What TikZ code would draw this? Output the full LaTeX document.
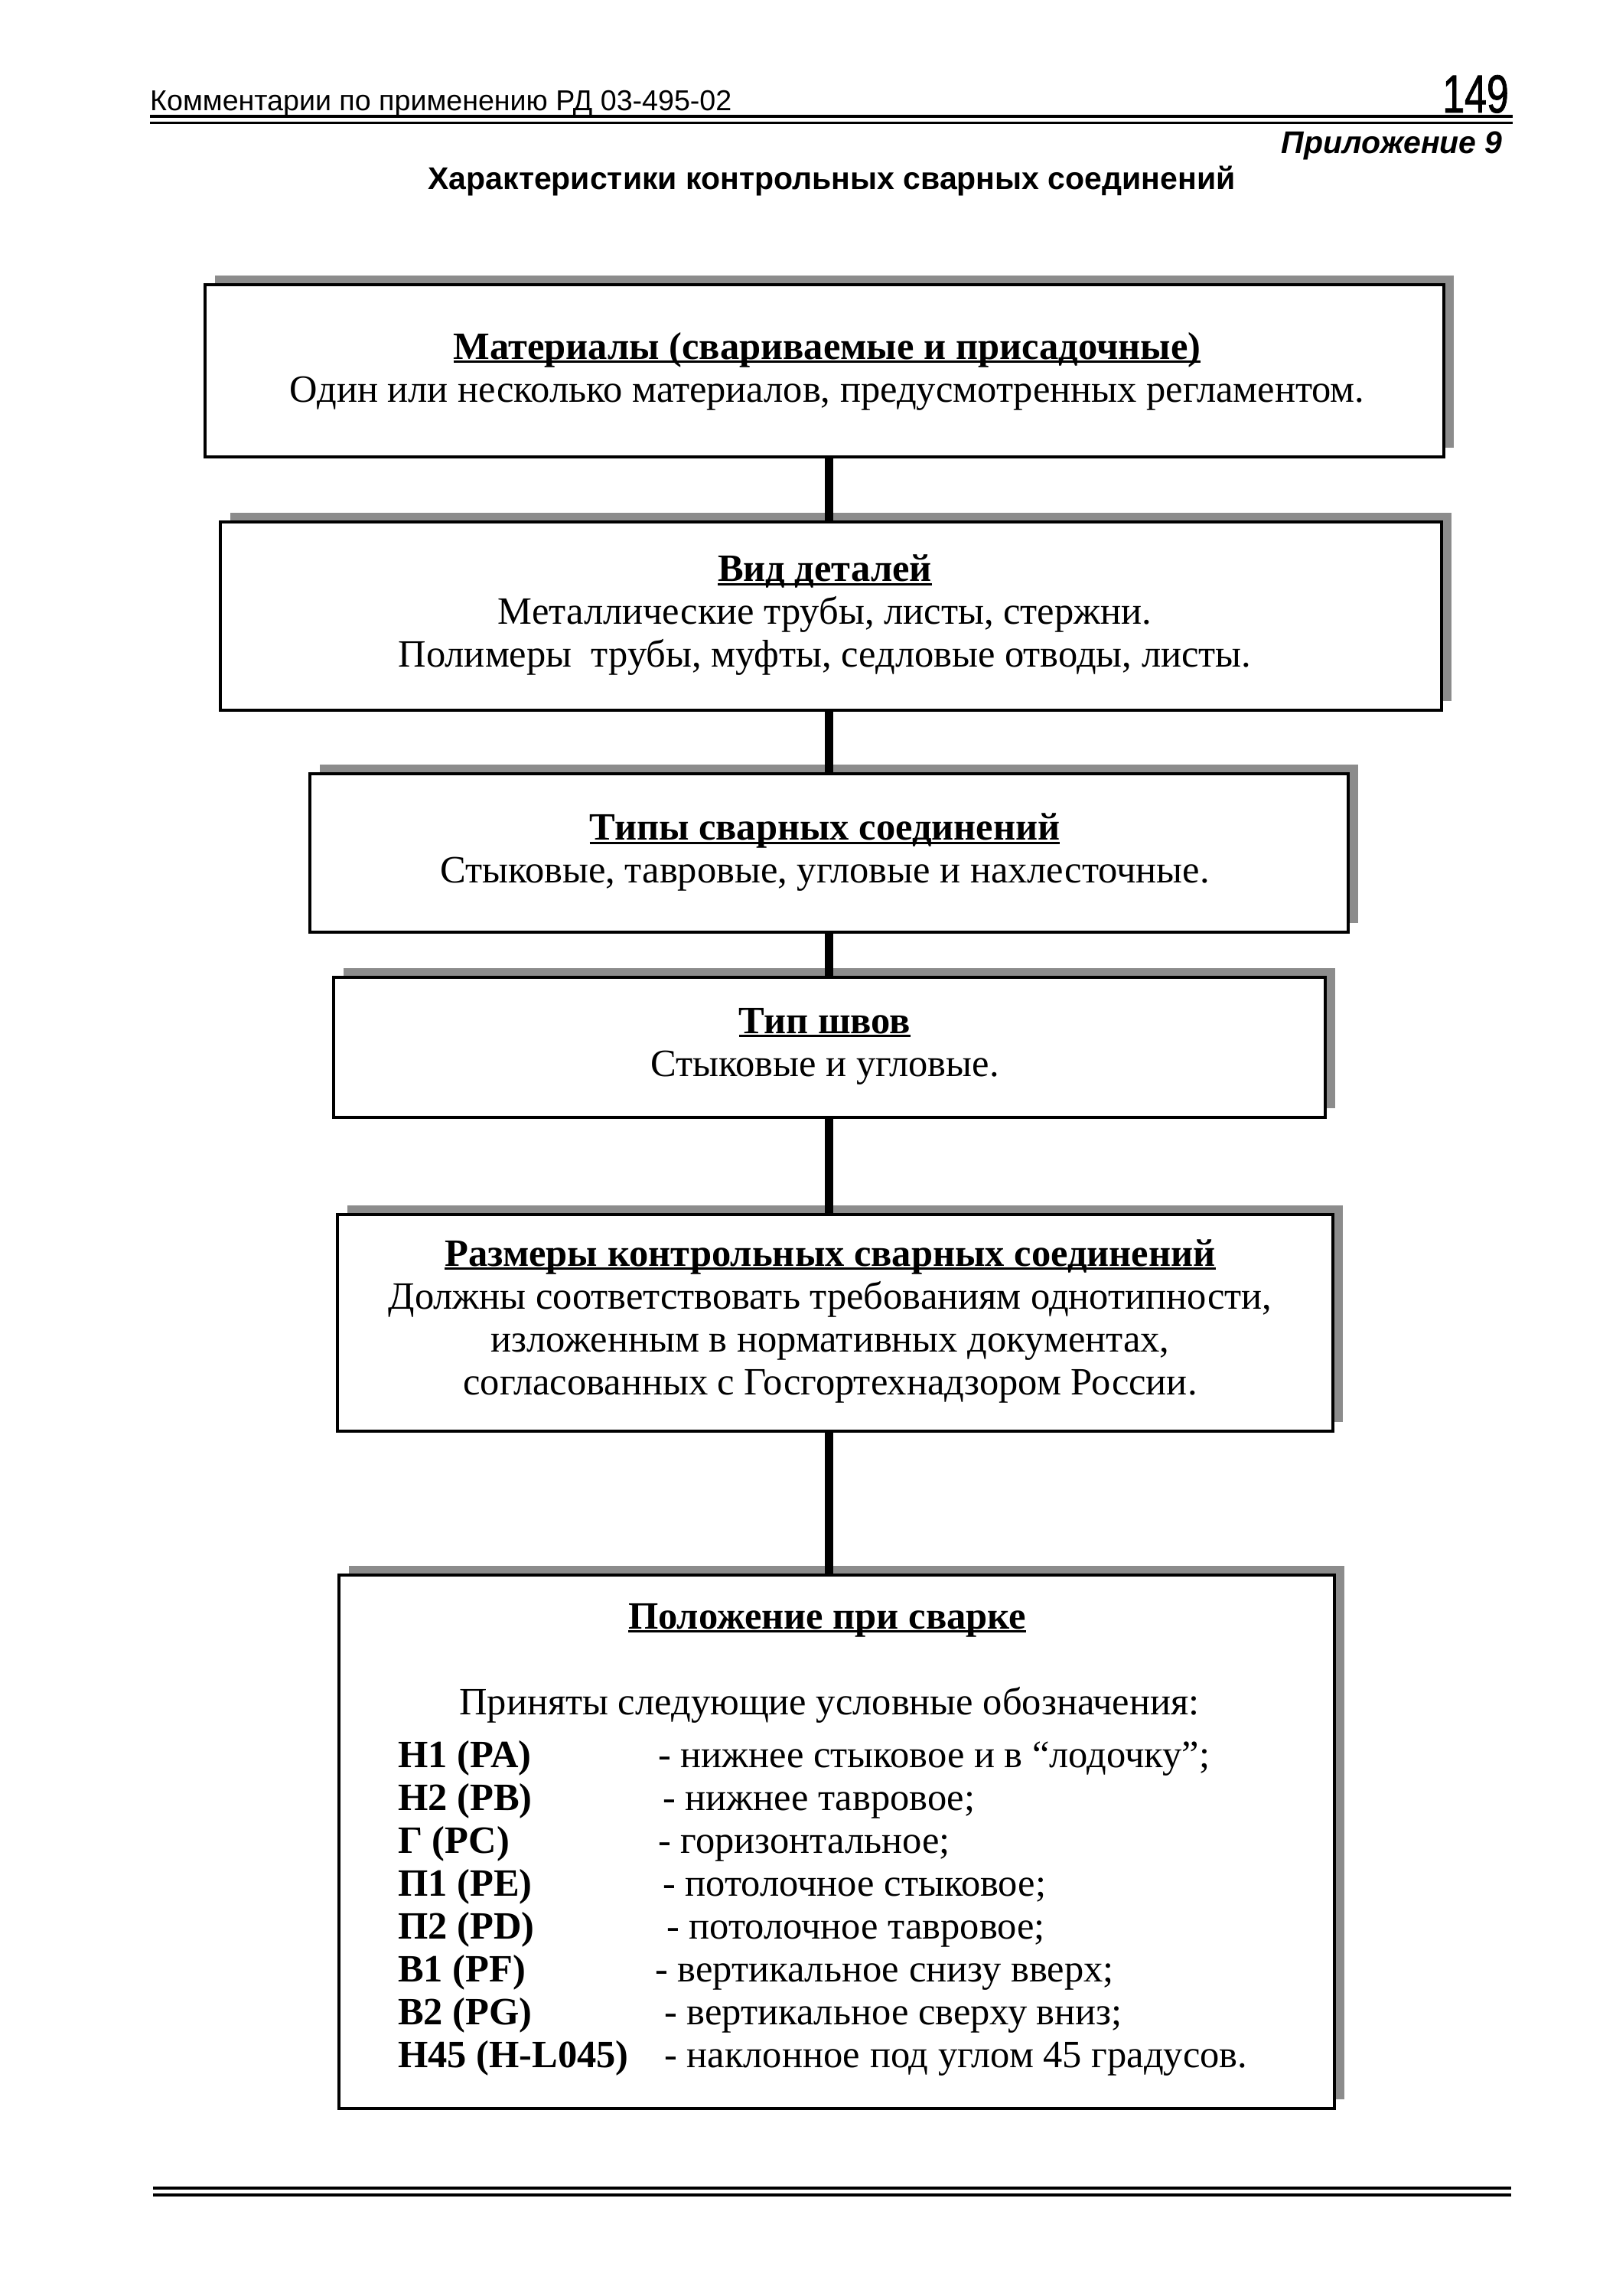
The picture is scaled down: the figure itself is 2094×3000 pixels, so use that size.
\documentclass[tikz,border=0pt]{standalone}
\usepackage{fontspec}
\usetikzlibrary{shadows}
\setmainfont{Liberation Serif}
\newfontfamily\arialf{Liberation Sans}
\newfontfamily\arialn[FakeStretch=0.74]{Liberation Sans}
\newlength\ulw
\newcommand\myul[1]{\settowidth\ulw{#1}\rlap{\rule[-0.1em]{\ulw}{0.055em}}#1}
\begin{document}
\begin{tikzpicture}[x=1pt,y=-1pt,
  frame/.style={draw=black, line width=4.5pt, fill=white, inner sep=0pt,
    drop shadow={shadow xshift=13pt, shadow yshift=12pt, fill=black!45, opacity=1}},
  body/.style={font=\fontsize{50.5}{56}\selectfont, align=center, inner sep=0pt},
  code/.style={font=\fontsize{50.5}{56}\selectfont\bfseries, anchor=base west, inner sep=0pt},
  desc/.style={font=\fontsize{50.5}{56}\selectfont, anchor=base west, inner sep=0pt},
  link/.style={line width=11pt, black},
  rulethick/.style={line width=4.5pt, black},
  rulethin/.style={line width=3pt, black}]
\useasboundingbox (0,0) rectangle (2094,3000);

% header
\node[anchor=base west, inner sep=0pt, font=\arialf\fontsize{37.6}{40}\selectfont] (hd) at (196,145) {Комментарии по применению РД 03-495-02};
\node[anchor=base east, inner sep=0pt, font=\arialn\fontsize{70}{74}\selectfont] (pg) at (1972,147) {\addfontfeature{FakeBold=1.2}149};
\coordinate (hl1) at (196,152); \coordinate (hr1) at (1977,152);
\coordinate (hl2) at (196,160.5); \coordinate (hr2) at (1977,160.5);
\draw[rulethick] (hl1) -- (hr1);
\draw[rulethin] (hl2) -- (hr2);
\node[anchor=base east, inner sep=0pt, font=\arialf\bfseries\itshape\fontsize{41}{44}\selectfont] (app) at (1964,200) {Приложение 9};
\node[anchor=base, inner sep=0pt, font=\arialf\bfseries\fontsize{41}{44}\selectfont] (ttl) at (1087,247) {Характеристики контрольных сварных соединений};

% boxes
\node[frame, minimum width=1619pt, minimum height=225pt] (b1) at (1077.5,484.5) {};
\node[frame, minimum width=1596pt, minimum height=246pt] (b2) at (1086,805) {};
\node[frame, minimum width=1357pt, minimum height=207pt] (b3) at (1083.5,1114.5) {};
\node[frame, minimum width=1296pt, minimum height=183pt] (b4) at (1084,1368.5) {};
\node[frame, minimum width=1301pt, minimum height=283pt] (b5) at (1091.5,1728.5) {};
\node[frame, minimum width=1301pt, minimum height=697pt] (b6) at (1093.5,2406.5) {};

% connectors
\coordinate (ax) at (1083,0);
\draw[link] (b1.south -| ax) -- (b2.north -| ax);
\draw[link] (b2.south -| ax) -- (b3.north -| ax);
\draw[link] (b3.south -| ax) -- (b4.north -| ax);
\draw[link] (b4.south -| ax) -- (b5.north -| ax);
\draw[link] (b5.south -| ax) -- (b6.north -| ax);

% texts
\node[body] (t1) at (1081,485) {\myul{\textbf{Материалы (свариваемые и присадочные)}}\\
Один или несколько материалов, предусмотренных регламентом.};
\node[body] (t2) at (1078,804) {\myul{\textbf{Вид деталей}}\\
Металлические трубы, листы, стержни.\\
Полимеры\ \ трубы, муфты, седловые отводы, листы.};
\node[body] (t3) at (1078,1114) {\myul{\textbf{Типы сварных соединений}}\\
Стыковые, тавровые, угловые и нахлесточные.};
\node[body] (t4) at (1078,1367) {\myul{\textbf{Тип швов}}\\
Стыковые и угловые.};
\node[body] (t5) at (1085,1726) {\myul{\textbf{Размеры контрольных сварных соединений}}\\
Должны соответствовать требованиям однотипности,\\
изложенным в нормативных документах,\\
согласованных с Госгортехнадзором России.};

\node[body, anchor=base] (t6) at (1081,2128) {\myul{\textbf{Положение при сварке}}};
\node[body, anchor=base] (t6a) at (1084,2240) {Приняты следующие условные обозначения:};

\node[code] (c1) at (520,2309) {Н1 (PA)};
\node[code] (c2) at (520,2365) {Н2 (PB)};
\node[code] (c3) at (520,2421) {Г (PC)};
\node[code] (c4) at (520,2477) {П1 (PE)};
\node[code] (c5) at (520,2533) {П2 (PD)};
\node[code] (c6) at (520,2589) {В1 (PF)};
\node[code] (c7) at (520,2645) {В2 (PG)};
\node[code] (c8) at (520,2701) {Н45 (H-L045)};

\node[desc] (d1) at (860,2309) {- нижнее стыковое и в “лодочку”;};
\node[desc] (d2) at (866,2365) {- нижнее тавровое;};
\node[desc] (d3) at (860,2421) {- горизонтальное;};
\node[desc] (d4) at (866,2477) {- потолочное стыковое;};
\node[desc] (d5) at (871,2533) {- потолочное тавровое;};
\node[desc] (d6) at (856,2589) {- вертикальное снизу вверх;};
\node[desc] (d7) at (868,2645) {- вертикальное сверху вниз;};
\node[desc] (d8) at (868,2701) {- наклонное под углом 45 градусов.};

% footer
\coordinate (fl1) at (200,2859); \coordinate (fr1) at (1975,2859);
\coordinate (fl2) at (200,2868); \coordinate (fr2) at (1975,2868);
\draw[rulethick] (fl1) -- (fr1);
\draw[rulethick] (fl2) -- (fr2);
\end{tikzpicture}
\end{document}
